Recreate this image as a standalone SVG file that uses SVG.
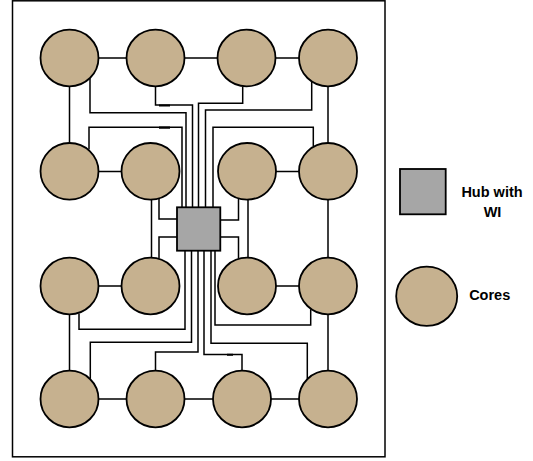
<svg xmlns="http://www.w3.org/2000/svg" width="533" height="461" viewBox="0 0 533 461">
<style>
.core{fill:#c6b18f;stroke:#000;stroke-width:1.8}
.hub{fill:#a6a6a6;stroke:#000;stroke-width:1.8}
.w{fill:none;stroke:#000;stroke-width:1.5}
.lbl{font-family:"Liberation Sans",Arial,sans-serif;font-weight:bold;font-size:14.5px;fill:#000;text-anchor:middle}
</style>
<rect x="0" y="0" width="533" height="461" fill="#fff"/>
<rect id="frame" x="12.5" y="0.8" width="372.5" height="456" fill="none" stroke="#000" stroke-width="1.5"/>
<g id="connectors" class="w">
<!-- mesh links -->
<path d="M98 58H127M184 58H218M275 58H299"/>
<path d="M98 171.5H122M276 171.5H299"/>
<path d="M98 286H122M276 286H299"/>
<path d="M98 399H127M184 399H213M271 399H299"/>
<path d="M69.5 86V143M328 86V143M328 200V257M69.5 314V371M328 314V371"/>
<path d="M151.5 200V258M248 200V258"/>
<!-- hub side links -->
<path d="M159 198.5V219H177M159 258.5V237H177"/>
<path d="M238.5 198.5V220H220M238.5 258.5V237H220"/>
<!-- top bus -->
<path d="M90 78.5V112.7H186V207"/>
<path d="M89 149.5V127.3H182V207"/>
<path d="M155.5 86.5V105H192.5V207"/>
<path d="M242.7 86.7V103.3H198.5V207"/>
<path d="M311.7 82V110H205.5V207"/>
<path d="M313.3 146V127.3H213V207"/>
<!-- bottom bus -->
<path d="M79 313.4V329.3H185V251"/>
<path d="M90.3 378.8V342.3H191.5V251"/>
<path d="M155.5 370.5V352H198V251"/>
<path d="M242 370.5V354.5H204V251"/>
<path d="M307.3 378.7V343.3H211V251"/>
<path d="M310.7 309.3V325H215V251"/>
<!-- small overlap marks -->
<path d="M159 105.5H170M159 127.6H170M227 354.8H233" stroke-width="2.1"/>
</g>
<g id="core-1-1"><ellipse class="core" cx="69.5" cy="58" rx="29" ry="28.3"/></g>
<g id="core-1-2"><ellipse class="core" cx="155.5" cy="58" rx="29" ry="28.3"/></g>
<g id="core-1-3"><ellipse class="core" cx="246.5" cy="58" rx="29" ry="28.3"/></g>
<g id="core-1-4"><ellipse class="core" cx="328" cy="58" rx="29" ry="28.3"/></g>
<g id="core-2-1"><ellipse class="core" cx="69.5" cy="171.3" rx="29" ry="28.3"/></g>
<g id="core-2-2"><ellipse class="core" cx="150.5" cy="171.3" rx="29" ry="28.3"/></g>
<g id="core-2-3"><ellipse class="core" cx="247" cy="171.3" rx="29" ry="28.3"/></g>
<g id="core-2-4"><ellipse class="core" cx="328" cy="171.3" rx="29" ry="28.3"/></g>
<g id="core-3-1"><ellipse class="core" cx="69.5" cy="286" rx="29" ry="28.3"/></g>
<g id="core-3-2"><ellipse class="core" cx="150.5" cy="286" rx="29" ry="28.3"/></g>
<g id="core-3-3"><ellipse class="core" cx="247" cy="286" rx="29" ry="28.3"/></g>
<g id="core-3-4"><ellipse class="core" cx="328" cy="286" rx="29" ry="28.3"/></g>
<g id="core-4-1"><ellipse class="core" cx="69.5" cy="399" rx="29" ry="28.3"/></g>
<g id="core-4-2"><ellipse class="core" cx="155.5" cy="399" rx="29" ry="28.3"/></g>
<g id="core-4-3"><ellipse class="core" cx="242" cy="399" rx="29" ry="28.3"/></g>
<g id="core-4-4"><ellipse class="core" cx="328" cy="399" rx="29" ry="28.3"/></g>
<g id="hub"><rect class="hub" x="177" y="207.3" width="43.3" height="43.4"/></g>
<g id="legend-hub">
<rect class="hub" x="400" y="169" width="45.7" height="45.3"/>
<text class="lbl" x="492" y="196.5">Hub with</text>
<text class="lbl" x="492.5" y="216.5">WI</text>
</g>
<g id="legend-core">
<ellipse class="core" cx="426.7" cy="296.3" rx="30.5" ry="29.6"/>
<text class="lbl" x="489.7" y="299.5">Cores</text>
</g>
</svg>
